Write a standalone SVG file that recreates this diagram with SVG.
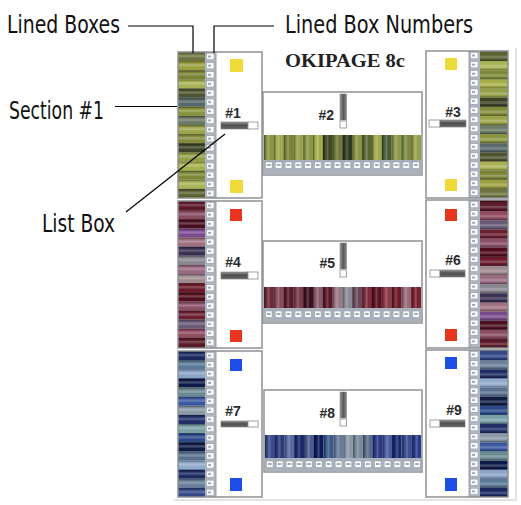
<svg xmlns="http://www.w3.org/2000/svg" width="521" height="505" viewBox="0 0 521 505">
<style>
.lbl{font-family:"Liberation Sans Narrow","DejaVu Sans Condensed","Liberation Sans",sans-serif;font-size:25px;fill:#111}
.num{font-family:"Liberation Sans",Arial,sans-serif;font-weight:bold;font-size:14px;fill:#2b2b2b}
.title{font-family:"Liberation Serif","Times New Roman",serif;font-weight:bold;font-size:19px;fill:#222}
.frame{fill:none;stroke:#8d9094;stroke-width:1.5}
.sep{stroke:#9aa0a8;stroke-width:1}
.panel{fill:#fff}
.conn{fill:none;stroke:#000;stroke-width:1.2}
.sqY{fill:#f0da3a}
.sqR{fill:#e8361e}
.sqB{fill:#1f4ee6}
.lbDark{fill:url(#gDark);stroke:#777;stroke-width:.6}
.lbWhite{fill:#fff;stroke:#8a8a8a;stroke-width:.8}
.sb{fill:url(#gBar);stroke:#777;stroke-width:.5}
.band{fill:#a9b1bd}
</style>
<defs>
<linearGradient id="gDark" x1="0" y1="0" x2="0" y2="1"><stop offset="0" stop-color="#9a9a9a"/><stop offset=".45" stop-color="#4e4e4e"/><stop offset="1" stop-color="#6a6a6a"/></linearGradient>
<linearGradient id="gBar" x1="0" y1="0" x2="1" y2="0"><stop offset="0" stop-color="#9c9c9c"/><stop offset=".5" stop-color="#575757"/><stop offset="1" stop-color="#8a8a8a"/></linearGradient>
<pattern id="rowShade" patternUnits="userSpaceOnUse" width="40" height="9.125"><rect width="40" height="1.3" fill="#000" opacity=".35"/><rect y="3" width="40" height="2.2" fill="#fff" opacity=".22"/></pattern>
<pattern id="colShade" patternUnits="userSpaceOnUse" width="9.8125" height="30"><rect width="1.4" height="30" fill="#000" opacity=".4"/><rect x="3.5" width="2" height="30" fill="#fff" opacity=".2"/></pattern>
<pattern id="numCol" patternUnits="userSpaceOnUse" width="11" height="9.125"><rect width="11" height="9.125" fill="#aeb6c2"/><rect x="1.5" y="1.5" width="7.5" height="6" fill="#fff" stroke="#8a929e" stroke-width=".5"/><rect x="3" y="3.5" width="3" height="2" fill="#a0a8b4"/></pattern>
<pattern id="numRow" patternUnits="userSpaceOnUse" width="9.8125" height="11"><rect width="9.8125" height="11" fill="#a8b0be"/><rect x="1.5" y="2" width="6.5" height="6.5" fill="#fff" stroke="#8a929e" stroke-width=".5"/><rect x="3" y="4" width="3.5" height="2" fill="#a0a8b4"/></pattern>
<pattern id="hs1" patternUnits="userSpaceOnUse" width="40" height="146">
<rect y="0" width="40" height="9.2" fill="#6e7440"/><rect y="9.125" width="40" height="9.2" fill="#9aa040"/><rect y="18.25" width="40" height="9.2" fill="#7a8236"/><rect y="27.375" width="40" height="9.2" fill="#a8b052"/><rect y="36.5" width="40" height="9.2" fill="#4e5430"/><rect y="45.625" width="40" height="9.2" fill="#58686a"/><rect y="54.75" width="40" height="9.2" fill="#8a943e"/><rect y="63.875" width="40" height="9.2" fill="#6a7a64"/><rect y="73" width="40" height="9.2" fill="#9ca44a"/><rect y="82.125" width="40" height="9.2" fill="#848c3c"/><rect y="91.25" width="40" height="9.2" fill="#3c4226"/><rect y="100.375" width="40" height="9.2" fill="#94a048"/><rect y="109.5" width="40" height="9.2" fill="#a6b04a"/><rect y="118.625" width="40" height="9.2" fill="#7c8838"/><rect y="127.75" width="40" height="9.2" fill="#aab458"/><rect y="136.875" width="40" height="9.2" fill="#5a6230"/>
</pattern>
<pattern id="hs2" patternUnits="userSpaceOnUse" width="40" height="146">
<rect y="0" width="40" height="9.2" fill="#5a1828"/><rect y="9.125" width="40" height="9.2" fill="#8a4c62"/><rect y="18.25" width="40" height="9.2" fill="#4a1020"/><rect y="27.375" width="40" height="9.2" fill="#7a4a8a"/><rect y="36.5" width="40" height="9.2" fill="#a07080"/><rect y="45.625" width="40" height="9.2" fill="#3a3050"/><rect y="54.75" width="40" height="9.2" fill="#8a8890"/><rect y="63.875" width="40" height="9.2" fill="#9a6a80"/><rect y="73" width="40" height="9.2" fill="#a08a90"/><rect y="82.125" width="40" height="9.2" fill="#6a1a2a"/><rect y="91.25" width="40" height="9.2" fill="#500e1c"/><rect y="100.375" width="40" height="9.2" fill="#8a5068"/><rect y="109.5" width="40" height="9.2" fill="#6a2030"/><rect y="118.625" width="40" height="9.2" fill="#6a5a78"/><rect y="127.75" width="40" height="9.2" fill="#904c60"/><rect y="136.875" width="40" height="9.2" fill="#5a1a28"/>
</pattern>
<pattern id="hs3" patternUnits="userSpaceOnUse" width="40" height="146">
<rect y="0" width="40" height="9.2" fill="#1a2a60"/><rect y="9.125" width="40" height="9.2" fill="#5a7898"/><rect y="18.25" width="40" height="9.2" fill="#8aa4c8"/><rect y="27.375" width="40" height="9.2" fill="#0e1a48"/><rect y="36.5" width="40" height="9.2" fill="#6a8a90"/><rect y="45.625" width="40" height="9.2" fill="#3a58a0"/><rect y="54.75" width="40" height="9.2" fill="#8a98a8"/><rect y="63.875" width="40" height="9.2" fill="#22306a"/><rect y="73" width="40" height="9.2" fill="#7aa0a8"/><rect y="82.125" width="40" height="9.2" fill="#2a4a8a"/><rect y="91.25" width="40" height="9.2" fill="#101c44"/><rect y="100.375" width="40" height="9.2" fill="#5a7090"/><rect y="109.5" width="40" height="9.2" fill="#90aacc"/><rect y="118.625" width="40" height="9.2" fill="#1e2c64"/><rect y="127.75" width="40" height="9.2" fill="#6a809a"/><rect y="136.875" width="40" height="9.2" fill="#344a88"/>
</pattern>
</defs>

<rect width="521" height="505" fill="#fff"/>
<path d="M174,500 H516 V48" fill="none" stroke="#e2e2e2" stroke-width="2"/>

<g id="title"><text class="title" x="285" y="66.5" textLength="120" lengthAdjust="spacingAndGlyphs">OKIPAGE 8c</text></g>

<!-- Section 1 -->
<g id="section1" transform="translate(0,52)">
 <g id="list1">
  <g transform="translate(178,0)"><rect width="27" height="146" fill="url(#hs1)"/><rect width="27" height="146" fill="url(#rowShade)"/></g>
  <g transform="translate(205,0)"><rect width="11" height="146" fill="url(#numCol)"/></g>
  <rect class="panel" x="216" y="0" width="46" height="146"/>
  <line class="sep" x1="216" y1="0" x2="216" y2="146"/>
  <rect class="frame" x="178" y="0" width="84" height="146"/>
  <rect class="sqY" x="230" y="7" width="13" height="13"/>
  <rect class="sqY" x="230" y="128" width="13" height="13"/>
  <text class="num" x="233" y="66" text-anchor="middle">#1</text>
  <rect class="lbDark" x="221" y="70" width="27" height="7"/>
  <rect class="lbWhite" x="248" y="70" width="10" height="7"/>
 </g>
 <g id="list2">
  <rect class="panel" x="263" y="40" width="159" height="83"/>
  <rect class="band" x="264" y="107" width="157" height="15"/>
  <g transform="translate(264,108)"><rect width="157" height="11" fill="url(#numRow)"/></g>
  <g transform="translate(264,83)">
   <rect x="0" width="9.9" height="25" fill="#8a9440"/><rect x="9.81" width="9.9" height="25" fill="#a0a850"/><rect x="19.63" width="9.9" height="25" fill="#7a8438"/><rect x="29.44" width="9.9" height="25" fill="#98a048"/><rect x="39.25" width="9.9" height="25" fill="#8a9644"/><rect x="49.06" width="9.9" height="25" fill="#a4ac4c"/><rect x="58.88" width="9.9" height="25" fill="#3e4624"/><rect x="68.69" width="9.9" height="25" fill="#6e7a3a"/><rect x="78.5" width="9.9" height="25" fill="#2e3a22"/><rect x="88.31" width="9.9" height="25" fill="#8a9244"/><rect x="98.13" width="9.9" height="25" fill="#5a6636"/><rect x="107.94" width="9.9" height="25" fill="#a0a84c"/><rect x="117.75" width="9.9" height="25" fill="#4a5a38"/><rect x="127.56" width="9.9" height="25" fill="#8e9848"/><rect x="137.38" width="9.9" height="25" fill="#7a8a40"/><rect x="147.19" width="9.8" height="25" fill="#96a04a"/>
   <rect width="157" height="25" fill="url(#colShade)"/>
  </g>
  <rect class="frame" x="263" y="40" width="159" height="83"/>
  <text class="num" x="334" y="68" text-anchor="end">#2</text>
  <rect class="sb" x="340" y="42" width="6.5" height="26"/>
  <rect class="lbWhite" x="340" y="69" width="6.5" height="7"/>
 </g>
 <g id="list3">
  <rect class="panel" x="426" y="-1" width="43" height="147"/>
  <g transform="translate(469,-1)"><rect width="11" height="147" fill="url(#numCol)"/></g>
  <g transform="translate(480,146) scale(1,-1)"><rect width="28" height="147" fill="url(#hs1)"/><rect width="28" height="147" fill="url(#rowShade)"/></g>
  <line class="sep" x1="469" y1="-1" x2="469" y2="146"/>
  <rect class="frame" x="426" y="-1" width="82" height="147"/>
  <rect class="sqY" x="445" y="6" width="12" height="12"/>
  <rect class="sqY" x="445" y="127" width="12" height="12"/>
  <text class="num" x="453" y="65" text-anchor="middle">#3</text>
  <rect class="lbWhite" x="429" y="68" width="11" height="7"/>
  <rect class="lbDark" x="440" y="68" width="26" height="7"/>
 </g>
</g>

<!-- Section 2 -->
<g id="section2" transform="translate(0,201)">
 <g id="list4">
  <g transform="translate(178,0)"><rect width="27" height="147" fill="url(#hs2)"/><rect width="27" height="147" fill="url(#rowShade)"/></g>
  <g transform="translate(205,0)"><rect width="11" height="147" fill="url(#numCol)"/></g>
  <rect class="panel" x="216" y="0" width="46" height="147"/>
  <line class="sep" x1="216" y1="0" x2="216" y2="147"/>
  <rect class="frame" x="178" y="0" width="84" height="147"/>
  <rect class="sqR" x="230" y="8" width="12" height="12"/>
  <rect class="sqR" x="230" y="129" width="12" height="12"/>
  <text class="num" x="233" y="66" text-anchor="middle">#4</text>
  <rect class="lbDark" x="221" y="71" width="27" height="7"/>
  <rect class="lbWhite" x="248" y="71" width="10" height="7"/>
 </g>
 <g id="list5">
  <rect class="panel" x="263" y="40" width="159" height="82"/>
  <rect class="band" x="264" y="106" width="157" height="15"/>
  <g transform="translate(264,108)"><rect width="157" height="10" fill="url(#numRow)"/></g>
  <g transform="translate(264,86)">
   <rect x="0" width="9.9" height="21" fill="#6a2a38"/><rect x="9.81" width="9.9" height="21" fill="#8a4a5a"/><rect x="19.63" width="9.9" height="21" fill="#5a1a2a"/><rect x="29.44" width="9.9" height="21" fill="#7a3a4a"/><rect x="39.25" width="9.9" height="21" fill="#3a1020"/><rect x="49.06" width="9.9" height="21" fill="#8a5a6a"/><rect x="58.88" width="9.9" height="21" fill="#5a1828"/><rect x="68.69" width="9.9" height="21" fill="#9a7a88"/><rect x="78.5" width="9.9" height="21" fill="#8a8a94"/><rect x="88.31" width="9.9" height="21" fill="#6a4a5a"/><rect x="98.13" width="9.9" height="21" fill="#7a2a3a"/><rect x="107.94" width="9.9" height="21" fill="#5a1020"/><rect x="117.75" width="9.9" height="21" fill="#8a3a4a"/><rect x="127.56" width="9.9" height="21" fill="#6a1a2a"/><rect x="137.38" width="9.9" height="21" fill="#9a6a78"/><rect x="147.19" width="9.8" height="21" fill="#7a2030"/>
   <rect width="157" height="21" fill="url(#colShade)"/>
  </g>
  <rect class="frame" x="263" y="40" width="159" height="82"/>
  <text class="num" x="335" y="67" text-anchor="end">#5</text>
  <rect class="sb" x="340" y="42" width="6.5" height="26"/>
  <rect class="lbWhite" x="340" y="69" width="6.5" height="7"/>
 </g>
 <g id="list6">
  <rect class="panel" x="426" y="-1" width="43" height="148"/>
  <g transform="translate(469,-1)"><rect width="11" height="148" fill="url(#numCol)"/></g>
  <g transform="translate(480,147) scale(1,-1)"><rect width="28" height="148" fill="url(#hs2)"/><rect width="28" height="148" fill="url(#rowShade)"/></g>
  <line class="sep" x1="469" y1="-1" x2="469" y2="147"/>
  <rect class="frame" x="426" y="-1" width="82" height="148"/>
  <rect class="sqR" x="445" y="8" width="12" height="12"/>
  <rect class="sqR" x="445" y="128" width="12" height="12"/>
  <text class="num" x="453" y="64" text-anchor="middle">#6</text>
  <rect class="lbWhite" x="430" y="69" width="10" height="7"/>
  <rect class="lbDark" x="440" y="69" width="25" height="7"/>
 </g>
</g>

<!-- Section 3 -->
<g id="section3" transform="translate(0,351)">
 <g id="list7">
  <g transform="translate(178,0)"><rect width="27" height="146" fill="url(#hs3)"/><rect width="27" height="146" fill="url(#rowShade)"/></g>
  <g transform="translate(205,0)"><rect width="11" height="146" fill="url(#numCol)"/></g>
  <rect class="panel" x="216" y="0" width="46" height="146"/>
  <line class="sep" x1="216" y1="0" x2="216" y2="146"/>
  <rect class="frame" x="178" y="0" width="84" height="146"/>
  <rect class="sqB" x="230" y="8" width="12" height="12"/>
  <rect class="sqB" x="230" y="127" width="12" height="13"/>
  <text class="num" x="233" y="65" text-anchor="middle">#7</text>
  <rect class="lbDark" x="221" y="70" width="27" height="6"/>
  <rect class="lbWhite" x="248" y="70" width="10" height="6"/>
 </g>
 <g id="list8">
  <rect class="panel" x="264" y="39" width="158" height="82"/>
  <rect class="band" x="265" y="106" width="156" height="14"/>
  <g transform="translate(265,108)"><rect width="156" height="10" fill="url(#numRow)"/></g>
  <g transform="translate(265,84)">
   <rect x="0" width="9.9" height="23" fill="#3a4a8a"/><rect x="9.75" width="9.9" height="23" fill="#2a3a7a"/><rect x="19.5" width="9.9" height="23" fill="#5a6aa0"/><rect x="29.25" width="9.9" height="23" fill="#1a2a6a"/><rect x="39" width="9.9" height="23" fill="#4a5a90"/><rect x="48.75" width="9.9" height="23" fill="#0e1a5a"/><rect x="58.5" width="9.9" height="23" fill="#3a5a8a"/><rect x="68.25" width="9.9" height="23" fill="#6a7a9a"/><rect x="78" width="9.9" height="23" fill="#8a98a8"/><rect x="87.75" width="9.9" height="23" fill="#7a8a9a"/><rect x="97.5" width="9.9" height="23" fill="#5a6a8a"/><rect x="107.25" width="9.9" height="23" fill="#2a3a80"/><rect x="117" width="9.9" height="23" fill="#4a5aa0"/><rect x="126.75" width="9.9" height="23" fill="#1a2a70"/><rect x="136.5" width="9.9" height="23" fill="#3a4a90"/><rect x="146.25" width="9.75" height="23" fill="#2a3a88"/>
   <rect width="156" height="23" fill="url(#colShade)"/>
  </g>
  <rect class="frame" x="264" y="39" width="158" height="82"/>
  <text class="num" x="335" y="67" text-anchor="end">#8</text>
  <rect class="sb" x="340" y="41" width="6.5" height="26"/>
  <rect class="lbWhite" x="340" y="68" width="6.5" height="7"/>
 </g>
 <g id="list9">
  <rect class="panel" x="426" y="-1" width="43" height="147"/>
  <g transform="translate(469,-1)"><rect width="11" height="147" fill="url(#numCol)"/></g>
  <g transform="translate(480,146) scale(1,-1)"><rect width="28" height="147" fill="url(#hs3)"/><rect width="28" height="147" fill="url(#rowShade)"/></g>
  <line class="sep" x1="469" y1="-1" x2="469" y2="146"/>
  <rect class="frame" x="426" y="-1" width="82" height="147"/>
  <rect class="sqB" x="445" y="6" width="12" height="12"/>
  <rect class="sqB" x="445" y="127" width="12" height="13"/>
  <text class="num" x="454" y="64" text-anchor="middle">#9</text>
  <rect class="lbWhite" x="430" y="69" width="10" height="7"/>
  <rect class="lbDark" x="440" y="69" width="25" height="7"/>
 </g>
</g>

<g id="labels">
 <g id="label-lined-boxes"><text class="lbl" x="7" y="33" textLength="113" lengthAdjust="spacingAndGlyphs">Lined Boxes</text></g>
 <g id="label-lined-box-numbers"><text class="lbl" x="285" y="33" textLength="188" lengthAdjust="spacingAndGlyphs">Lined Box Numbers</text></g>
 <g id="label-section1"><text class="lbl" x="9" y="119" textLength="95" lengthAdjust="spacingAndGlyphs">Section #1</text></g>
 <g id="label-list-box"><text class="lbl" x="42" y="231.5" textLength="73" lengthAdjust="spacingAndGlyphs">List Box</text></g>
</g>

<g id="connectors">
 <polyline class="conn" points="128,26 193,26 193,53"/>
 <polyline class="conn" points="274,26 214,26 214,53"/>
 <line class="conn" x1="115" y1="106.5" x2="177" y2="106.5"/>
 <line class="conn" x1="126" y1="212" x2="225" y2="134"/>
</g>
</svg>
